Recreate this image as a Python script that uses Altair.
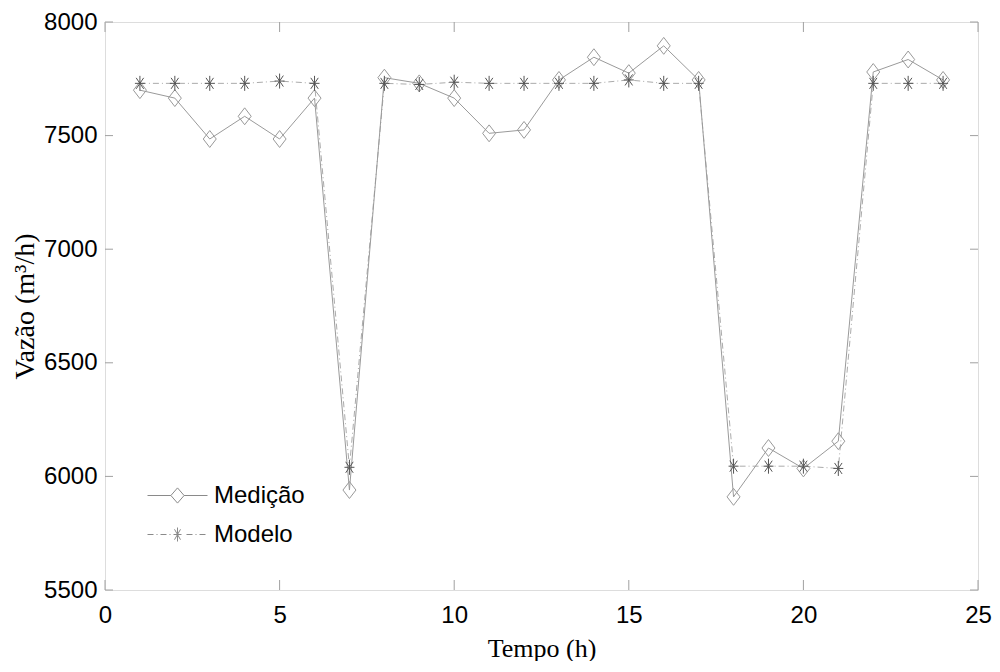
import altair as alt
import pandas as pd

# ---- data ----
hours = list(range(1, 25))
medicao = [7700, 7665, 7485, 7585, 7485, 7665, 5940, 7755, 7730, 7665, 7510, 7525,
           7745, 7845, 7775, 7895, 7745, 5910, 6125, 6035, 6155, 7780, 7835, 7745]
modelo = [7730, 7730, 7730, 7730, 7740, 7730, 6040, 7730, 7725, 7735, 7730, 7730,
          7730, 7730, 7745, 7730, 7730, 6045, 6045, 6045, 6035, 7730, 7730, 7730]
series_names = ["Medição", "Modelo"]
x_ticks = [0, 5, 10, 15, 20, 25]
y_ticks = [5500, 6000, 6500, 7000, 7500, 8000]

rows = []
for h, v in zip(hours, medicao):
    rows.append({"hora": h, "vazao": v, "serie": series_names[0]})
for h, v in zip(hours, modelo):
    rows.append({"hora": h, "vazao": v, "serie": series_names[1]})
df = pd.DataFrame(rows)

# ---- styles ----
W, H = 873, 568
SANS = "Liberation Sans, Arial, sans-serif"
SERIF = "Liberation Serif, Times New Roman, serif"
FRAME = "#a0a0a0"
DIAMOND = "M0,-1.3L1,0L0,1.3L-1,0Z"
STAR = "M-1,0H1M0,-1.5V1.5M-0.75,-1.1L0.75,1.1M-0.75,1.1L0.75,-1.1"


def dashdot(x0, x1, skip0, skip1):
    parts, x = [], x0
    pattern = [(0.30, True), (0.15, False), (0.05, True), (0.15, False)]
    i = 0
    while x < x1:
        ln, draw = pattern[i % 4]
        e = min(x + ln, x1)
        if draw and not (x < skip1 and e > skip0):
            parts.append(f"M{x:.3f},0H{e:.3f}")
        x = e
        i += 1
    return "".join(parts)


LEG_MED = "M-1.5,0H-0.33M0.33,0H1.5M0,-0.38L0.33,0L0,0.38L-0.33,0Z"
LEG_MOD = dashdot(-1.5, 1.5, -0.25, 0.25) + "M-0.2,0H0.2M0,-0.35V0.35M-0.15,-0.26L0.15,0.26M-0.15,0.26L0.15,-0.26"

XMIN, XMAX = 0, 25
YMIN, YMAX = 5500, 8000
xscale = alt.Scale(domain=[XMIN, XMAX], nice=False, zero=False)
yscale = alt.Scale(domain=[YMIN, YMAX], nice=False, zero=False)

# inward tick lengths (style), converted from pixels to data units
XT_LEN = 10 * (YMAX - YMIN) / H
YT_LEN = 8 * (XMAX - XMIN) / W

common_axis = dict(grid=False, domain=False, ticks=False,
                   labelFont=SANS, labelFontSize=24, labelColor="black", labelFlush=False,
                   titleFont=SERIF, titleFontWeight="normal", titleColor="black", format="d")

xaxis = alt.Axis(values=x_ticks, title="Tempo (h)", labelPadding=13, titleFontSize=26,
                 titlePadding=8, **common_axis)
yaxis = alt.Axis(values=y_ticks, title="Vazão (m³/h)", labelPadding=8, titleFontSize=28,
                 titlePadding=4, **common_axis)

base = alt.Chart(df).encode(
    x=alt.X("hora:Q", scale=xscale, axis=xaxis),
    y=alt.Y("vazao:Q", scale=yscale, axis=yaxis),
)

line_mod = base.transform_filter(alt.datum.serie == series_names[1]).mark_line(
    color="#ababab", strokeWidth=1, strokeDash=[6, 3, 1, 3])
line_med = base.transform_filter(alt.datum.serie == series_names[0]).mark_line(
    color="#9a9a9a", strokeWidth=1)
pts_med = base.transform_filter(alt.datum.serie == series_names[0]).mark_point(
    shape=DIAMOND, size=169, filled=False, color="#999999", strokeWidth=1, opacity=1)
pts_mod = base.transform_filter(alt.datum.serie == series_names[1]).mark_point(
    shape=STAR, size=100, filled=False, color="#555555", strokeWidth=1, opacity=1)

legend_layer = alt.Chart(df).transform_filter("false").mark_point(
    filled=False, color="#8a8a8a", strokeWidth=1, opacity=1).encode(
    x=alt.X("hora:Q", scale=xscale),
    y=alt.Y("vazao:Q", scale=yscale),
    shape=alt.Shape("serie:N", scale=alt.Scale(domain=series_names, range=[LEG_MED, LEG_MOD]),
                    legend=alt.Legend(title=None, orient="none", legendX=52, legendY=453,
                                      symbolSize=1600, symbolStrokeWidth=1,
                                      symbolStrokeColor="#8a8a8a", symbolFillColor="transparent",
                                      labelFont=SANS, labelFontSize=24, labelColor="black",
                                      labelOffset=16, rowPadding=6, padding=0)),
)

# inward tick marks on all four sides, drawn from the tick value lists
xt = pd.DataFrame({"t": x_ticks})
yt = pd.DataFrame({"t": y_ticks})
rule = dict(color=FRAME, strokeWidth=1, opacity=1)
xt_bottom = alt.Chart(xt).mark_rule(**rule).encode(
    x=alt.X("t:Q", scale=xscale), y=alt.datum(YMIN), y2=alt.datum(YMIN + XT_LEN))
xt_top = alt.Chart(xt).mark_rule(**rule).encode(
    x=alt.X("t:Q", scale=xscale), y=alt.datum(YMAX - XT_LEN), y2=alt.datum(YMAX))
yt_left = alt.Chart(yt).mark_rule(**rule).encode(
    y=alt.Y("t:Q", scale=yscale), x=alt.datum(XMIN), x2=alt.datum(XMIN + YT_LEN))
yt_right = alt.Chart(yt).mark_rule(**rule).encode(
    y=alt.Y("t:Q", scale=yscale), x=alt.datum(XMAX - YT_LEN), x2=alt.datum(XMAX))

chart = alt.layer(
    line_mod, line_med, pts_med, pts_mod, legend_layer,
    xt_bottom, xt_top, yt_left, yt_right,
).properties(
    width=W, height=H,
    padding={"left": 3, "top": 2, "right": 0, "bottom": 0},
).configure_view(stroke=FRAME, strokeWidth=1).configure(background="white")

chart.save("out.html", embed_options={"renderer": "svg", "actions": False})
